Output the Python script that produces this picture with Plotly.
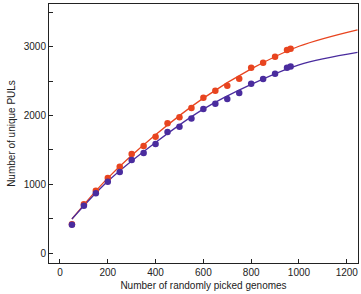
import plotly.graph_objects as go

# scatter data
genomes = [50, 100, 150, 200, 250, 300, 350, 400, 450, 500, 550, 600, 650, 700, 750, 800, 850, 900, 950, 965]
red_puls = [420, 709, 907, 1092, 1257, 1441, 1557, 1693, 1888, 1975, 2111, 2261, 2363, 2436, 2537, 2697, 2770, 2857, 2955, 2974]
purple_puls = [412, 689, 869, 1038, 1179, 1354, 1456, 1587, 1761, 1838, 1960, 2096, 2173, 2242, 2329, 2464, 2533, 2610, 2697, 2717]

# fitted curves
fit_x = [50, 200, 400, 600, 800, 1000, 1245]
red_fit = [495, 1090, 1720, 2255, 2680, 3010, 3250]
purple_fit = [495, 1045, 1610, 2095, 2455, 2740, 2921]

RED = "#E8441F"
PURPLE = "#4A2C9E"

fig = go.Figure()
fig.add_trace(go.Scatter(x=fit_x, y=red_fit, mode="lines", line=dict(color=RED, width=1.3, shape="spline"), hoverinfo="skip"))
fig.add_trace(go.Scatter(x=fit_x, y=purple_fit, mode="lines", line=dict(color=PURPLE, width=1.3, shape="spline"), hoverinfo="skip"))
fig.add_trace(go.Scatter(x=genomes, y=red_puls, mode="markers", marker=dict(color=RED, size=6.5)))
fig.add_trace(go.Scatter(x=genomes, y=purple_puls, mode="markers", marker=dict(color=PURPLE, size=6.5)))

fig.update_layout(
    width=361, height=294,
    margin=dict(l=49, r=3, t=4, b=31),
    showlegend=False,
    plot_bgcolor="white", paper_bgcolor="white",
    font=dict(family="Liberation Sans, Arial, sans-serif", size=10, color="#222"),
)
fig.update_xaxes(
    range=[-46, 1247], tickvals=[0, 200, 400, 600, 800, 1000, 1200],
    ticks="inside", ticklen=4, tickcolor="#222", showgrid=False, zeroline=False,
    showline=True, linecolor="#222", linewidth=1, mirror=True,
    title=dict(text="Number of randomly picked genomes", font=dict(size=10), standoff=4),
)
fig.update_yaxes(
    range=[-145, 3625], tickvals=[0, 1000, 2000, 3000],
    ticks="inside", ticklen=4, tickcolor="#222", showgrid=False, zeroline=False,
    showline=True, linecolor="#222", linewidth=1, mirror=True,
    minor=dict(tickvals=[500, 1500, 2500, 3500], ticks="inside", ticklen=4, tickcolor="#222", showgrid=False),
    title=dict(text="Number of unique PULs", font=dict(size=10), standoff=6),
)
fig.write_html("out.html")
